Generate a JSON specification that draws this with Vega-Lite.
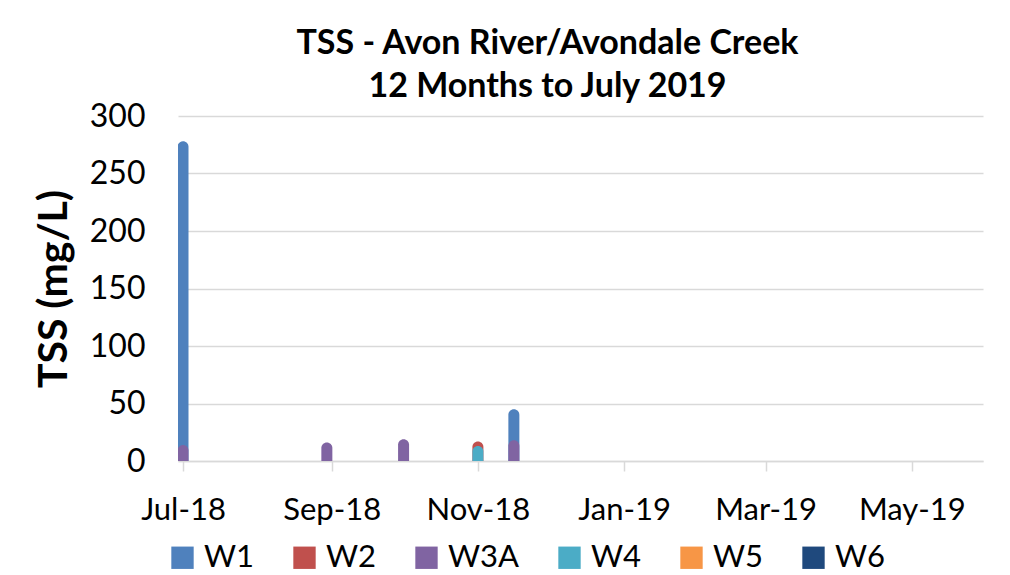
{
  "$schema": "https://vega.github.io/schema/vega-lite/v6.json",
  "width": 805,
  "height": 345,
  "autosize": {"type": "none"},
  "padding": {"left": 178, "top": 116, "right": 27, "bottom": 114},
  "background": "white",
  "title": {
    "text": ["TSS - Avon River/Avondale Creek", "12 Months to July 2019"],
    "font": "Lato",
    "fontSize": 34,
    "fontWeight": "bold",
    "color": "black",
    "lineHeight": 43,
    "anchor": "middle",
    "dx": -33,
    "offset": -4
  },
  "data": {
    "values": [
      {"date": "2018-07-01", "site": "W1", "tss": 278},
      {"date": "2018-11-16", "site": "W1", "tss": 45},
      {"date": "2018-11-01", "site": "W2", "tss": 17},
      {"date": "2018-07-01", "site": "W3A", "tss": 14},
      {"date": "2018-08-30", "site": "W3A", "tss": 16},
      {"date": "2018-10-01", "site": "W3A", "tss": 19},
      {"date": "2018-11-16", "site": "W3A", "tss": 18},
      {"date": "2018-11-01", "site": "W4", "tss": 13}
    ]
  },
  "mark": {
    "type": "bar",
    "width": 11,
    "cornerRadiusTopLeft": 5.5,
    "cornerRadiusTopRight": 5.5,
    "clip": true
  },
  "encoding": {
    "x": {
      "field": "date",
      "type": "temporal",
      "scale": {"type": "utc", "domain": ["2018-07-01T00:00:00Z", "2019-05-28T14:00:00Z"]},
      "axis": {
        "title": null,
        "labelExpr": "utcFormat(datum.value, '%b-%y')",
        "values": ["2018-07-01T00:00:00Z", "2018-09-01T00:00:00Z", "2018-11-01T00:00:00Z", "2019-01-01T00:00:00Z", "2019-03-01T00:00:00Z", "2019-05-01T00:00:00Z"],
        "grid": false,
        "domainColor": "#D9D9D9",
        "domainWidth": 1.5,
        "tickColor": "#D9D9D9",
        "tickWidth": 1.5,
        "tickSize": 10,
        "labelFont": "Lato",
        "labelFontSize": 31,
        "labelColor": "black",
        "labelPadding": 24,
        "labelFlush": false
      }
    },
    "y": {
      "field": "tss",
      "type": "quantitative",
      "stack": null,
      "scale": {"domain": [0, 300]},
      "axis": {
        "title": "TSS (mg/L)",
        "titleFont": "Lato",
        "titleFontSize": 41,
        "titleFontWeight": "bold",
        "titleColor": "black",
        "titlePadding": 14,
        "values": [0, 50, 100, 150, 200, 250, 300],
        "grid": true,
        "gridColor": "#D9D9D9",
        "gridWidth": 1.5,
        "domain": false,
        "ticks": false,
        "labelFont": "Lato",
        "labelFontSize": 32,
        "labelColor": "black",
        "labelPadding": 33
      }
    },
    "color": {
      "field": "site",
      "type": "nominal",
      "scale": {
        "domain": ["W1", "W2", "W3A", "W4", "W5", "W6"],
        "range": ["#4F81BD", "#C0504D", "#8064A2", "#4BACC6", "#F79646", "#1F497D"]
      },
      "legend": {
        "title": null,
        "orient": "none",
        "legendX": -11,
        "legendY": 426,
        "direction": "horizontal",
        "symbolType": "square",
        "symbolSize": 500,
        "symbolStrokeWidth": 0,
        "labelFont": "Lato",
        "labelFontSize": 31,
        "labelColor": "black",
        "labelOffset": 6,
        "columnPadding": 34
      }
    }
  },
  "config": {
    "view": {"stroke": null}
  }
}
